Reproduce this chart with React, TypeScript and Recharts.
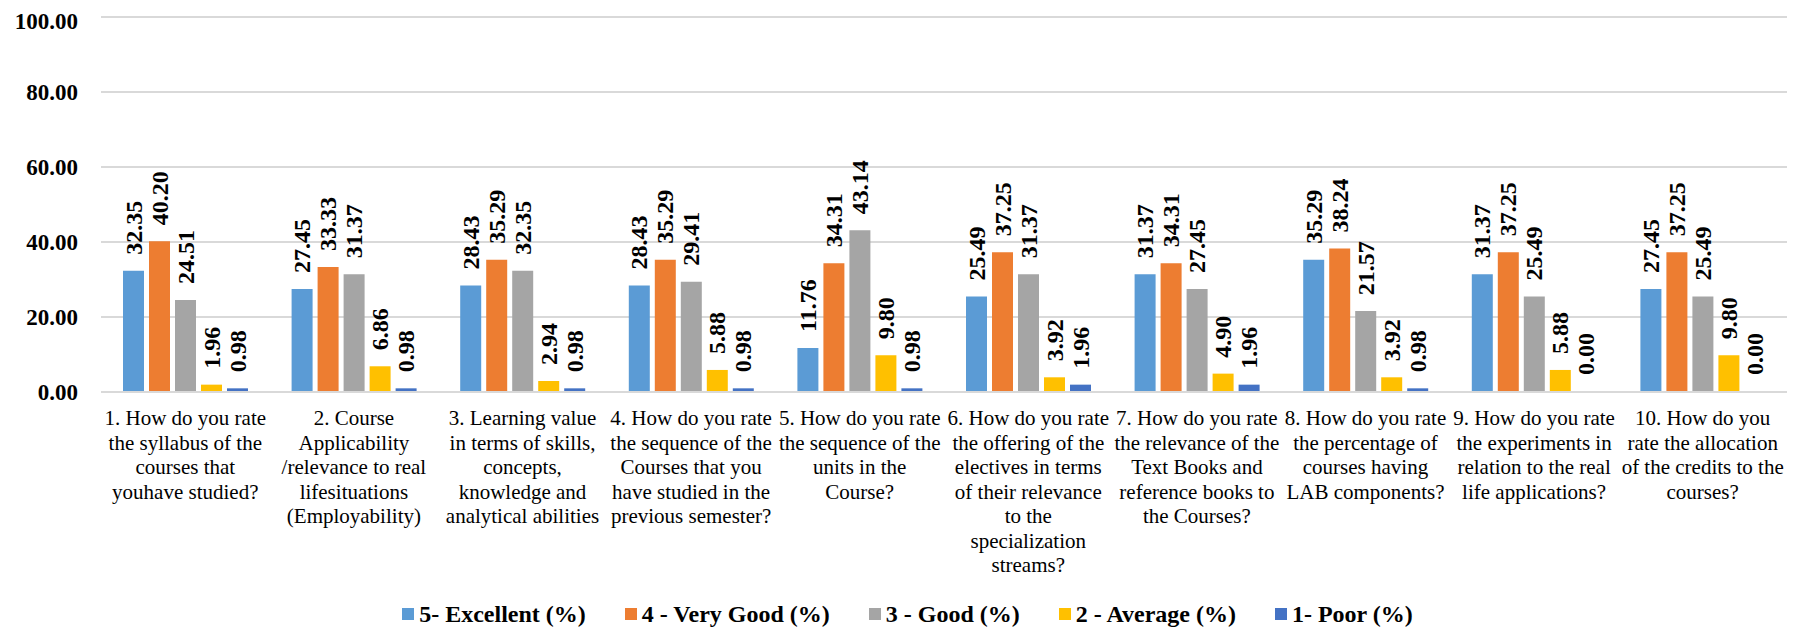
import { BarChart, Bar, XAxis, YAxis, CartesianGrid, Legend, LabelList } from "recharts";

const serif = '"Liberation Serif", "Times New Roman", serif';

// question labels, line breaks as in the original figure
const categories = [
  "1. How do you rate\nthe syllabus of the\ncourses that\nyouhave studied?",
  "2. Course\nApplicability\n/relevance to real\nlifesituations\n(Employability)",
  "3. Learning value\nin terms of skills,\nconcepts,\nknowledge and\nanalytical abilities",
  "4. How do you rate\nthe sequence of the\nCourses that you\nhave studied in the\nprevious semester?",
  "5. How do you rate\nthe sequence of the\nunits in the\nCourse?",
  "6. How do you rate\nthe offering of the\nelectives in terms\nof their relevance\nto the\nspecialization\nstreams?",
  "7. How do you rate\nthe relevance of the\nText Books and\nreference books to\nthe Courses?",
  "8. How do you rate\nthe percentage of\ncourses having\nLAB components?",
  "9. How do you rate\nthe experiments in\nrelation to the real\nlife applications?",
  "10. How do you\nrate the allocation\nof the credits to the\ncourses?",
];

const excellent = [32.35, 27.45, 28.43, 28.43, 11.76, 25.49, 31.37, 35.29, 31.37, 27.45];
const veryGood = [40.2, 33.33, 35.29, 35.29, 34.31, 37.25, 34.31, 38.24, 37.25, 37.25];
const good = [24.51, 31.37, 32.35, 29.41, 43.14, 31.37, 27.45, 21.57, 25.49, 25.49];
const average = [1.96, 6.86, 2.94, 5.88, 9.8, 3.92, 4.9, 3.92, 5.88, 9.8];
const poor = [0.98, 0.98, 0.98, 0.98, 0.98, 1.96, 1.96, 0.98, 0, 0];

const yTicks = [0, 20, 40, 60, 80, 100];

const series = [
  { key: "excellent", name: "5- Excellent (%)", color: "#5B9BD5" },
  { key: "veryGood", name: "4 - Very Good (%)", color: "#ED7D31" },
  { key: "good", name: "3 - Good (%)", color: "#A5A5A5" },
  { key: "average", name: "2 - Average (%)", color: "#FFC000" },
  { key: "poor", name: "1- Poor (%)", color: "#4472C4" },
];

const data = categories.map((name, i) => ({
  name,
  excellent: excellent[i],
  veryGood: veryGood[i],
  good: good[i],
  average: average[i],
  poor: poor[i],
}));

const CategoryTick = ({ x, y, payload }: any) => {
  const lines = String(payload.value).split("\n");
  return (
    <text x={x} y={y} textAnchor="middle" fontFamily={serif} fontSize={21} fill="#000">
      {lines.map((line, i) => (
        <tspan key={i} x={x} dy={i === 0 ? 31 : 24.5}>
          {line}
        </tspan>
      ))}
    </text>
  );
};

const ValueLabel = ({ x, y, width, value }: any) => {
  const cx = Number(x) + Number(width) / 2;
  const top = Number(y) - 16;
  return (
    <text
      x={cx}
      y={top}
      dy="0.34em"
      transform={`rotate(-90, ${cx}, ${top})`}
      textAnchor="start"
      fontFamily={serif}
      fontSize={24}
      fontWeight="bold"
      fill="#000"
    >
      {Number(value).toFixed(2)}
    </text>
  );
};

const LegendContent = () => (
  <div
    style={{
      display: "flex",
      justifyContent: "center",
      alignItems: "center",
      height: 30,
      paddingLeft: 20,
      fontFamily: serif,
      fontWeight: "bold",
      fontSize: 24,
      color: "#000",
    }}
  >
    {series.map((s, i) => (
      <div key={s.key} style={{ display: "flex", alignItems: "center", marginLeft: i === 0 ? 0 : 39 }}>
        <span style={{ display: "inline-block", width: 12, height: 12, background: s.color, marginRight: 5 }} />
        <span>{s.name}</span>
      </div>
    ))}
  </div>
);

export default function App() {
  return (
    <BarChart
      width={1790}
      height={621}
      data={data}
      margin={{ top: 9, right: 11, bottom: 0, left: 0 }}
      barSize={21}
      barGap={5}
    >
      <CartesianGrid vertical={false} stroke="#D9D9D9" strokeWidth={2} />
      <XAxis
        dataKey="name"
        interval={0}
        height={207}
        tick={<CategoryTick />}
        tickLine={false}
        tickSize={0}
        axisLine={{ stroke: "#D9D9D9", strokeWidth: 2 }}
      />
      <YAxis
        width={93}
        domain={[0, 100]}
        ticks={yTicks}
        tickFormatter={(v: number) => v.toFixed(2)}
        axisLine={false}
        tickLine={false}
        tickSize={0}
        tickMargin={23}
        tick={{ fontSize: 23, fontWeight: "bold", fill: "#000", fontFamily: serif }}
      />
      <Legend verticalAlign="bottom" content={<LegendContent />} />
      {series.map((s) => (
        <Bar
          key={s.key}
          dataKey={s.key}
          name={s.name}
          fill={s.color}
          minPointSize={1}
          isAnimationActive={false}
        >
          <LabelList dataKey={s.key} content={<ValueLabel />} />
        </Bar>
      ))}
    </BarChart>
  );
}
